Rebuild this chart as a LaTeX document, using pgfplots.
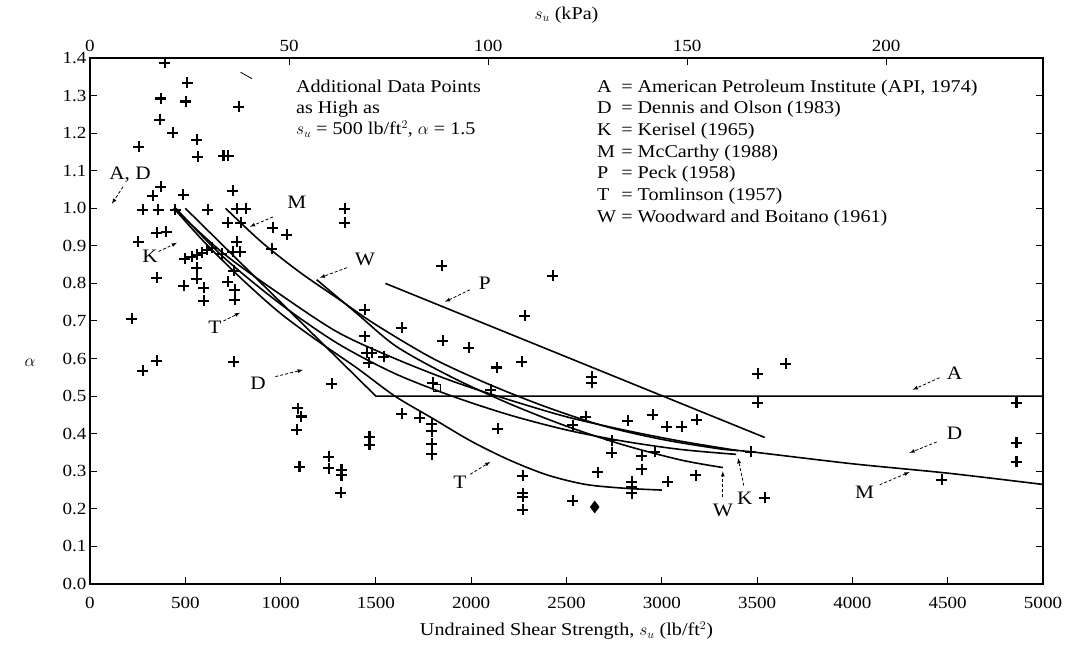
\documentclass[border=0pt]{standalone}
\usepackage{fontspec}
\setmainfont{Liberation Serif}[FakeStretch=1.12]
\usepackage{pgfplots}
\pgfplotsset{compat=1.18}
\usetikzlibrary{calc}

\pgfplotsset{
  base/.style={scale only axis, width=953pt, height=526pt,
    tick align=inside, major tick length=7pt,
    tick style={black, line width=1pt},
    axis line style={line width=1.3pt},
    tick label style={font=\fontsize{17}{19}\selectfont, /pgf/number format/assume math mode=true},
    label style={font=\fontsize{18}{20}\selectfont}},
  curve/.style={black, line width=1.6pt, no markers}
}
\tikzset{
  lab/.style={font=\fontsize{19}{21}\selectfont},
  arr/.style={-latex, line width=0.8pt, dash pattern=on 3pt off 2pt}
}

\begin{document}
\begin{tikzpicture}[font=\fontsize{18}{21.7}\selectfont]
\begin{axis}[base, name=ax,
  xmin=0, xmax=5000, ymin=0, ymax=1.4,
  xtick={0,500,...,5000}, xtick pos=bottom,
  ytick={0,0.1,0.2,0.3,0.4,0.5,0.6,0.7,0.8,0.9,1.0,1.1,1.2,1.3,1.4}, ytick pos=both,
  y tick label style={/pgf/number format/fixed, /pgf/number format/fixed zerofill, /pgf/number format/precision=1},
  x tick label style={yshift=-10pt, /pgf/number format/1000 sep={}},
  xlabel={Undrained Shear Strength, $s_u$ (lb/ft$^2$)},
  xlabel style={yshift=-6pt},
  clip=false]

% measured points
\addplot[only marks, mark=+, mark size=5.5pt, mark options={line width=2.2pt}] coordinates {
(393,1.387) (509,1.334) (372,1.292) (503,1.284) (781,1.270) (367,1.236)
(435,1.201) (561,1.182) (257,1.164) (566,1.137) (700,1.140) (725,1.140)
(372,1.057) (330,1.033) (488,1.036) (750,1.047) (278,0.996) (357,0.996)
(446,0.996) (619,0.996) (771,0.999) (818,0.999) (1337,0.999) (1337,0.961)
(724,0.961) (792,0.961) (960,0.948) (1033,0.929) (351,0.935) (399,0.937)
(252,0.911) (954,0.892) (498,0.866) (535,0.871) (561,0.876) (587,0.881)
(614,0.889) (640,0.895) (692,0.879) (750,0.884) (787,0.884) (771,0.911)
(561,0.842) (351,0.815) (493,0.794) (561,0.812) (598,0.788) (598,0.754)
(724,0.804) (760,0.783) (760,0.756) (755,0.834) (220,0.706) (351,0.594)
(278,0.567) (755,0.591) (1269,0.533) (1442,0.730) (1442,0.660) (1453,0.615)
(1479,0.615) (1463,0.589) (1542,0.605) (1846,0.847) (2428,0.820) (2281,0.714)
(1636,0.682) (1851,0.647) (1987,0.629) (2134,0.576) (2265,0.591) (2632,0.551)
(2632,0.535) (1799,0.535) (2103,0.517) (1636,0.453) (1730,0.442) (1793,0.426)
(1793,0.407) (1793,0.373) (1793,0.346) (2139,0.413) (2271,0.288) (2271,0.242)
(2271,0.232) (2271,0.197) (2533,0.221) (2601,0.445) (2533,0.423) (2737,0.383)
(2737,0.349) (2821,0.434) (2952,0.450) (3026,0.418) (3104,0.418) (3183,0.437)
(2895,0.341) (2963,0.352) (2895,0.306) (2664,0.298) (2842,0.272) (2842,0.258)
(2842,0.242) (3031,0.272) (3178,0.290) (1090,0.468) (1108,0.446) (1084,0.410)
(1099,0.312) (1253,0.339) (1253,0.308) (1319,0.304) (1319,0.290) (1316,0.243)
(1466,0.392) (1466,0.370) (3503,0.559) (3650,0.586) (3503,0.482) (3466,0.352)
(3540,0.229) (4468,0.277) (4861,0.482) (4861,0.376) (4861,0.325)
};
\addplot[only marks, mark=diamond*, mark size=6pt] coordinates {(2648,0.205)};
\addplot[only marks, mark=square, mark size=3.5pt, mark options={line width=1.2pt}] coordinates {(1820,0.522)};

% A - API
\addplot[curve, sharp plot] coordinates {(500,1.0) (1500,0.5) (5000,0.5)};
% T - Tomlinson
\addplot[curve, smooth] coordinates {(440,1.0) (600,0.91) (800,0.81) (1000,0.72) (1200,0.645) (1400,0.575) (1600,0.50) (1800,0.44) (2000,0.38) (2200,0.33) (2400,0.29) (2600,0.265) (2800,0.255) (3000,0.25)};
% D - Dennis and Olson
\addplot[curve, smooth] coordinates {(440,1.0) (700,0.88) (1000,0.77) (1300,0.67) (1600,0.60) (1900,0.54) (2200,0.49) (2500,0.445) (2800,0.41) (3100,0.38) (3400,0.355)};
% K - Kerisel
\addplot[curve, smooth] coordinates {(450,1.0) (700,0.87) (1000,0.745) (1300,0.64) (1600,0.56) (1900,0.50) (2200,0.45) (2500,0.41) (2800,0.38) (3100,0.358) (3390,0.345)};
% M - McCarthy
\addplot[curve, smooth] coordinates {(711,1.0) (900,0.91) (1100,0.83) (1300,0.76) (1500,0.69) (1800,0.60) (2100,0.53) (2400,0.47) (2700,0.42) (3000,0.385) (3300,0.36) (3466,0.352) (4000,0.32) (4500,0.295) (5000,0.265)};
% W - Woodward and Boitano
\addplot[curve, smooth] coordinates {(1189,0.81) (1400,0.72) (1608,0.632) (1900,0.55) (2200,0.48) (2500,0.42) (2800,0.37) (3100,0.33) (3320,0.31)};
% P - Peck
\addplot[curve, sharp plot] coordinates {(1550,0.80) (3540,0.39)};

% curve labels
\node[lab] at (axis cs:210,1.089) {A, D};
\draw[arr] (axis cs:173,1.057) -- (axis cs:115,1.012);
\node[lab] at (axis cs:1085,1.015) {M};
\draw[arr] (axis cs:960,0.977) -- (axis cs:839,0.951);
\node[lab] at (axis cs:315,0.871) {K};
\draw[arr] (axis cs:360,0.885) -- (axis cs:456,0.908);
\node[lab] at (axis cs:655,0.682) {T};
\draw[arr] (axis cs:700,0.700) -- (axis cs:787,0.722);
\node[lab] at (axis cs:882,0.535) {D};
\draw[arr] (axis cs:973,0.552) -- (axis cs:1117,0.570);
\node[lab] at (axis cs:1442,0.863) {W};
\draw[arr] (axis cs:1348,0.842) -- (axis cs:1206,0.815);
\node[lab] at (axis cs:2071,0.801) {P};
\draw[arr] (axis cs:1993,0.783) -- (axis cs:1862,0.751);
\node[lab] at (axis cs:4536,0.562) {A};
\draw[arr] (axis cs:4457,0.549) -- (axis cs:4316,0.517);
\node[lab] at (axis cs:4536,0.402) {D};
\draw[arr] (axis cs:4442,0.378) -- (axis cs:4300,0.349);
\node[lab] at (axis cs:4064,0.245) {M};
\draw[arr] (axis cs:4143,0.264) -- (axis cs:4300,0.298);
\node[lab] at (axis cs:3435,0.229) {K};
\draw[arr] (axis cs:3430,0.262) -- (axis cs:3400,0.335);
\node[lab] at (axis cs:3320,0.195) {W};
\draw[arr] (axis cs:3320,0.232) -- (axis cs:3320,0.300);
\node[lab] at (axis cs:1940,0.272) {T};
\draw[arr] (axis cs:1995,0.292) -- (axis cs:2100,0.325);
\draw[line width=0.8pt] (axis cs:790,1.362) -- (axis cs:850,1.345);

% notes
\node[anchor=north west, align=left, inner sep=0pt, font=\fontsize{18}{21}\selectfont]
  at (axis cs:1080,1.341) {Additional Data Points\\as High as\\$s_u$ = 500 lb/ft$^2$, $\alpha$ = 1.5};
\node[anchor=north west, inner sep=0pt, font=\fontsize{18}{21.7}\selectfont]
  at (axis cs:2660,1.350) {\begin{tabular}{@{}l@{\ = }l@{}}
A & American Petroleum Institute (API, 1974)\\
D & Dennis and Olson (1983)\\
K & Kerisel (1965)\\
M & McCarthy (1988)\\
P & Peck (1958)\\
T & Tomlinson (1957)\\
W & Woodward and Boitano (1961)
\end{tabular}};
\node at ($(rel axis cs:0,0.42)+(-60pt,0)$) {$\alpha$};
\end{axis}

\begin{axis}[base,
  xmin=0, xmax=239.41, ymin=0, ymax=1,
  axis x line*=top, hide y axis,
  tick align=inside,
  xtick={0,50,100,150,200},
  x tick label style={yshift=3pt},
  xlabel={$s_u$ (kPa)}, xlabel style={yshift=10pt}]
\end{axis}

\pgfresetboundingbox
\path[use as bounding box] ($(ax.south west)+(-90pt,-60pt)$) rectangle ($(ax.north east)+(23pt,58pt)$);
\end{tikzpicture}
\end{document}
